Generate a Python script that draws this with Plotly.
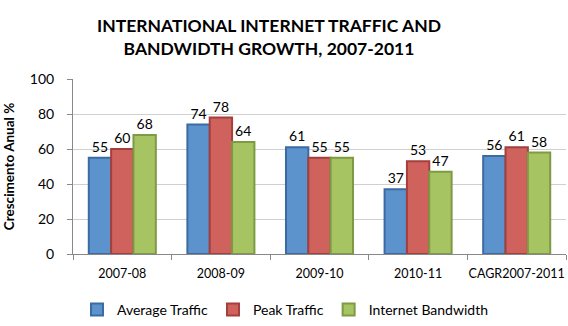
import plotly.graph_objects as go

categories = ["2007-08", "2008-09", "2009-10", "2010-11", "CAGR2007-2011"]
average_traffic = [55, 74, 61, 37, 56]
peak_traffic = [60, 78, 55, 53, 61]
internet_bandwidth = [68, 64, 55, 47, 58]

series = [
    ("Average Traffic", average_traffic, "#5D93CD", "#3C6AA3"),
    ("Peak Traffic", peak_traffic, "#D0625E", "#A43F3C"),
    ("Internet Bandwidth", internet_bandwidth, "#A7C463", "#7E9A44"),
]

font_family = "Lato, 'Open Sans', sans-serif"

fig = go.Figure()
for name, vals, fill, line in series:
    fig.add_trace(go.Bar(
        x=categories, y=vals, name=name,
        marker=dict(color=fill, line=dict(color=line, width=2)),
        text=[str(v) for v in vals], textposition="outside",
        textfont=dict(size=14, color="#000000", family=font_family),
        cliponaxis=False,
    ))

fig.update_layout(
    width=568, height=326,
    margin=dict(l=73, r=2, t=79, b=72),
    paper_bgcolor="white", plot_bgcolor="white",
    barmode="group", bargap=0.32, bargroupgap=0,
    font=dict(family=font_family, size=13, color="#000000"),
    title=dict(
        text="INTERNATIONAL INTERNET TRAFFIC AND<br>BANDWIDTH GROWTH, 2007-2011",
        x=269 / 568, xanchor="center", xref="container",
        yref="container", y=1 - 32 / 326, yanchor="middle",
        font=dict(size=17.5, family=font_family, color="#000000", weight="bold"),
    ),
    legend=dict(
        orientation="h", x=0.43, xanchor="center",
        yref="container", y=0.0, yanchor="bottom",
        font=dict(size=14, family=font_family),
        itemwidth=30, tracegroupgap=0,
    ),
    showlegend=True,
)
fig.update_xaxes(
    type="category", automargin=False, tickangle=0,
    showline=True, linecolor="#888888", linewidth=1,
    ticks="outside", tickson="boundaries", ticklen=5, tickcolor="#888888",
    tickfont=dict(size=12.5, family=font_family),
    ticklabelstandoff=8,
)
fig.update_yaxes(
    range=[0, 100], dtick=20, automargin=False,
    showline=True, linecolor="#888888", linewidth=1,
    ticks="outside", ticklen=5, tickcolor="#888888",
    showgrid=True, gridcolor="#D0D0D0", gridwidth=1,
    zeroline=False,
    tickfont=dict(size=14, family=font_family),
    ticklabelstandoff=10,
    title=dict(text="Crescimento Anual %", font=dict(size=13.5, family=font_family, weight="bold"), standoff=12),
)

fig.write_html("out.html")
